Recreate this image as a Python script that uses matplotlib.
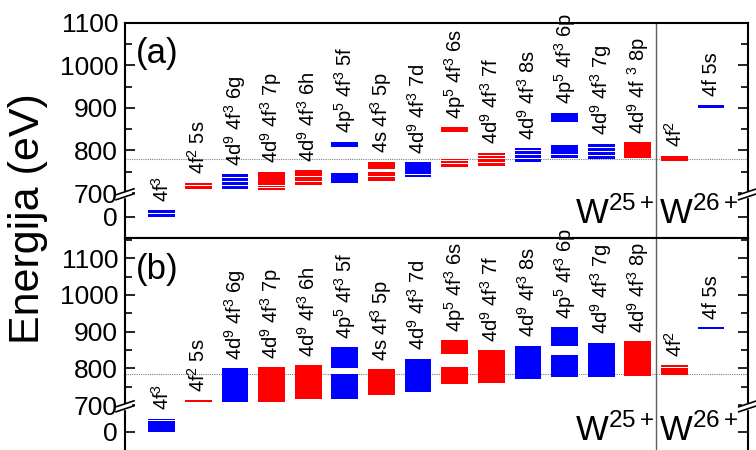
import numpy as np
import matplotlib
matplotlib.use("Agg")
import matplotlib.pyplot as plt
import matplotlib.transforms as mtransforms
from matplotlib.lines import Line2D
from matplotlib.patches import Rectangle

plt.rcParams['font.family'] = ['Liberation Sans', 'DejaVu Sans']
plt.rcParams['mathtext.fontset'] = 'custom'
plt.rcParams['mathtext.rm'] = 'Liberation Sans'
plt.rcParams['mathtext.it'] = 'Liberation Sans:italic'
plt.rcParams['mathtext.bf'] = 'Liberation Sans:bold'

# Configurations (W25+ then W26+)
configs = [r'4f$^3$', r'4f$^2$ 5s', r'4d$^9$ 4f$^3$ 6g', r'4d$^9$ 4f$^3$ 7p',
           r'4d$^9$ 4f$^3$ 6h', r'4p$^5$ 4f$^3$ 5f', r'4s 4f$^3$ 5p',
           r'4d$^9$ 4f$^3$ 7d', r'4p$^5$ 4f$^3$ 6s', r'4d$^9$ 4f$^3$ 7f',
           r'4d$^9$ 4f$^3$ 8s', r'4p$^5$ 4f$^3$ 6p', r'4d$^9$ 4f$^3$ 7g',
           r'4d$^9$ 4f$^3$ 8p', r'4f$^2$', '4f 5s']
configs_a = configs[:13] + [r'4d$^9$ 4f $^3$ 8p'] + configs[14:]
colors = ['blue', 'red', 'blue', 'red', 'red', 'blue', 'red', 'blue',
          'red', 'red', 'blue', 'blue', 'blue', 'red', 'red', 'blue']

# Energy bands (eV) of each configuration, panel (a)
levels_a = [
    [(0, 7), (8, 15)],
    [(710, 716), (718, 724)],
    [(710, 717), (719, 726), (728, 735), (737, 744)],
    [(708, 711), (713, 717), (719, 750)],
    [(719, 727), (729, 737), (739, 746), (748, 754)],
    [(724, 746), (808, 821)],
    [(729, 738), (740, 749), (757, 765), (767, 774)],
    [(737, 742), (744, 772)],
    [(761, 768), (770, 775), (777, 780), (844, 855)],
    [(763, 770), (772, 780), (782, 788), (790, 795)],
    [(774, 781), (783, 790), (792, 798), (800, 806)],
    [(783, 789), (791, 814), (866, 889)],
    [(780, 788), (790, 797), (799, 806), (808, 816)],
    [(783, 819)],
    [(776, 788)],
    [(900, 908)],
]

# Energy bands (eV) of each configuration, panel (b)
levels_b = [
    [(0, 30), (32, 36)],
    [(707, 714)],
    [(707, 800)],
    [(707, 804)],
    [(716, 809)],
    [(717, 784), (801, 857)],
    [(727, 798)],
    [(735, 826)],
    [(756, 804), (838, 877)],
    [(759, 850)],
    [(771, 862)],
    [(777, 837), (860, 912)],
    [(777, 870)],
    [(779, 874)],
    [(781, 802), (804, 809)],
    [(906, 913)],
]

ion_limit_a = 779
ion_limit_b = 784
ion_names = [r'W$^{25+}$', r'W$^{26+}$']
yticks = [0, 700, 800, 900, 1000, 1100]
yminor = [750, 850, 950, 1050, 1150]


def broken_scale(b, k):
    """Keep 0..b linear, squeeze b..700, continue linearly above 700."""
    def fwd(e):
        e = np.asarray(e, float)
        mid = b + (e - b) * (k - b) / (700.0 - b)
        return np.where(e <= b, e, np.where(e >= 700, e - 700 + k, mid))

    def inv(y):
        y = np.asarray(y, float)
        mid = b + (y - b) * (700.0 - b) / (k - b)
        return np.where(y <= b, y, np.where(y >= k, y + 700 - k, mid))
    return fwd, inv


fig = plt.figure(figsize=(7.56, 4.5), dpi=100)
L, W = 125 / 756, 622.7 / 756
ax_a = fig.add_axes([L, 212.3 / 450, W, 214.9 / 450])
ax_b = fig.add_axes([L, -0.002, W, 212.3 / 450 + 0.002])

panels = [
    (ax_a, levels_a, configs_a, ion_limit_a, (50, 56), (-49, 1100), '(a)', 0.933, 0.064),
    (ax_b, levels_b, configs, ion_limit_b, (66, 73), (-52, 1156), '(b)', 0.928, 0.047),
]

for ax, levels, labels, ion, (b, k), ylim, tag, tag_y, wy in panels:
    fwd, inv = broken_scale(b, k)
    ax.set_yscale('function', functions=(fwd, inv))
    ax.set_xlim(-1, 16)
    ax.set_ylim(*ylim)

    for i, (bands, col, lab) in enumerate(zip(levels, colors, labels)):
        lo = np.array([p[0] for p in bands])
        hi = np.array([p[1] for p in bands])
        ax.bar(np.full(len(bands), i), hi - lo, bottom=lo, width=0.73,
               color=col, linewidth=0, zorder=3)
        ax.annotate(lab, xy=(i, hi.max()), xytext=(0, 6),
                    textcoords='offset points', rotation=90,
                    ha='center', va='bottom', fontsize=14.5)

    ax.axhline(ion, color='#808080', lw=0.8, ls=(0, (1, 1)), zorder=2)
    ax.axvline(13.5, color='#606060', lw=1.0, zorder=2)

    blend = mtransforms.blended_transform_factory(ax.transData, ax.transAxes)
    ax.text(13.45, wy, ion_names[0], transform=blend, ha='right',
            va='baseline', fontsize=25)
    ax.text(13.58, wy, ion_names[1], transform=blend, ha='left',
            va='baseline', fontsize=25)
    ax.text(0.017, tag_y, tag, transform=ax.transAxes, ha='left', va='top',
            fontsize=25)

    ax.set_xticks([])
    ax.set_yticks(yticks)
    ax.set_yticklabels([str(t) for t in yticks])
    ax.yaxis.set_minor_locator(matplotlib.ticker.FixedLocator(yminor))
    ax.tick_params(axis='y', which='both', direction='in', left=True,
                   right=True, labelsize=19, width=1.2, pad=5)
    ax.tick_params(axis='y', which='major', length=7)
    ax.tick_params(axis='y', which='minor', length=5)
    for s in ax.spines.values():
        s.set_linewidth(1.5)

    # break marks on both spines
    fig.canvas.draw()
    e_break = float(inv((b + k) / 2.0))
    yfrac = ax.transAxes.inverted().transform(
        ax.transData.transform((0, e_break)))[1]
    bb = ax.get_window_extent()
    wpx, hpx = bb.width, bb.height
    for xs in (0.0, 1.0):
        ax.add_patch(Rectangle((xs - 6 / wpx, yfrac - 2.5 / hpx), 12 / wpx,
                               5 / hpx, transform=ax.transAxes,
                               color='white', clip_on=False, zorder=5))
        for dy in (-2.5, 2.5):
            ax.add_line(Line2D([xs - 9 / wpx, xs + 9 / wpx],
                               [yfrac + (dy - 3) / hpx, yfrac + (dy + 3) / hpx],
                               transform=ax.transAxes, color='black', lw=1.2,
                               clip_on=False, zorder=6))

ax_b.spines['bottom'].set_visible(False)

fig.text(0.037, 0.514, 'Energija (eV)', rotation=90, ha='center',
         va='center', fontsize=31)

fig.savefig('out.png', dpi=100)
